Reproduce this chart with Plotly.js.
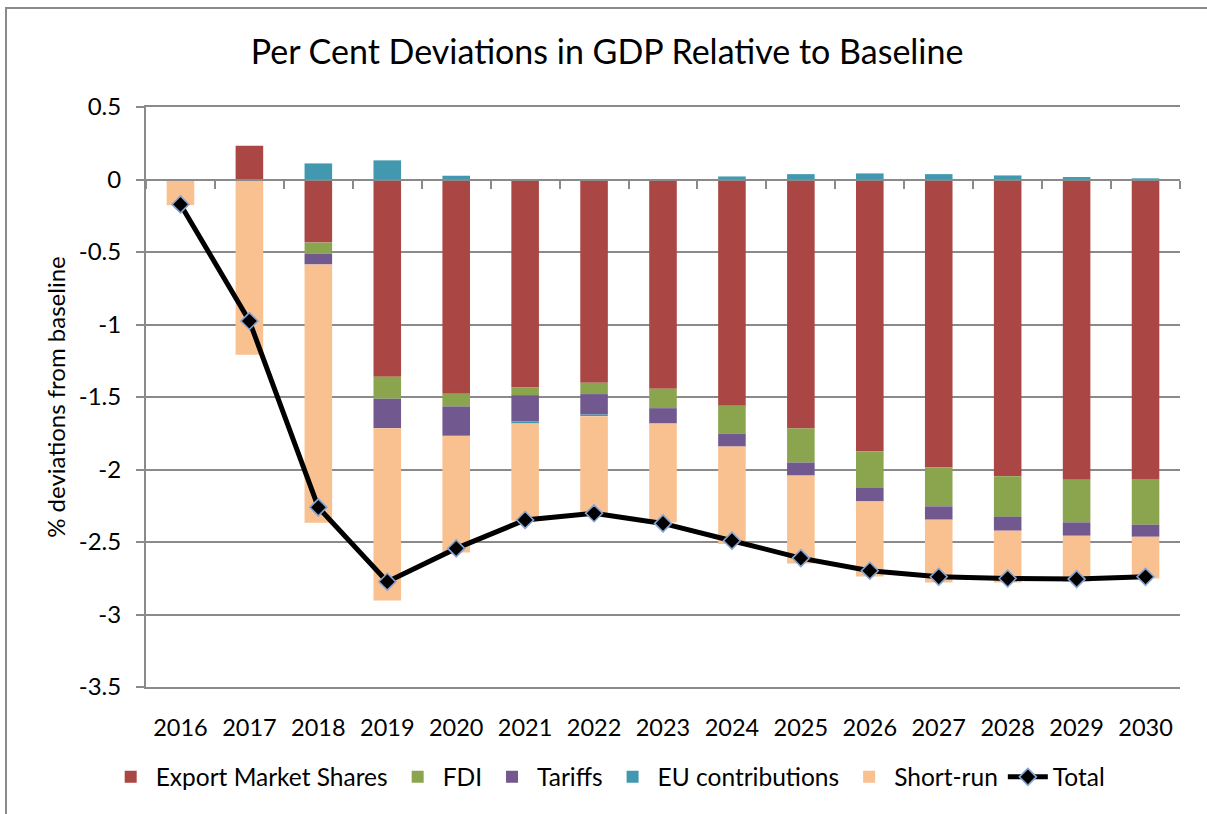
<!DOCTYPE html>
<html>
<head>
<meta charset="utf-8">
<script src="https://cdn.plot.ly/plotly-3.0.1.min.js"></script>
<style>
  html, body { margin: 0; padding: 0; background: #ffffff; }
  #frame { position: absolute; left: 5px; top: 7px; width: 1210px; height: 820px;
           border-left: 2px solid #8a8a8a; border-top: 2px solid #8a8a8a; box-sizing: border-box; }
  #chart { position: absolute; left: 0; top: 0; width: 1207px; height: 814px; }
</style>
</head>
<body>
<div id="frame"></div>
<div id="chart"></div>
<script>
// ---- data ----
const years = ['2016','2017','2018','2019','2020','2021','2022','2023','2024','2025','2026','2027','2028','2029','2030'];
const exportMarketShares = [0, 0.233, -0.435, -1.360, -1.478, -1.434, -1.402, -1.443, -1.561, -1.717, -1.876, -1.987, -2.047, -2.070, -2.065];
const fdi = [0, 0, -0.078, -0.152, -0.087, -0.053, -0.078, -0.134, -0.193, -0.235, -0.249, -0.267, -0.278, -0.295, -0.316];
const tariffs = [0, 0, -0.073, -0.203, -0.203, -0.182, -0.141, -0.106, -0.088, -0.090, -0.095, -0.092, -0.097, -0.092, -0.083];
const euContributions = [0, 0, 0.111, 0.132, 0.026, -0.014, -0.011, 0.002, 0.021, 0.037, 0.042, 0.037, 0.028, 0.017, 0.008];
const shortRun = [-0.177, -1.208, -1.782, -1.189, -0.804, -0.670, -0.675, -0.682, -0.672, -0.606, -0.518, -0.433, -0.357, -0.316, -0.288];
const total = [-0.172, -0.976, -2.261, -2.774, -2.544, -2.348, -2.302, -2.372, -2.491, -2.611, -2.698, -2.740, -2.752, -2.756, -2.740];
const seriesNames = ['Export Market Shares', 'FDI', 'Tariffs', 'EU contributions', 'Short-run', 'Total'];
const yTickVals = [0.5, 0, -0.5, -1, -1.5, -2, -2.5, -3, -3.5];
const yTickText = ['0.5', '0', '-0.5', '-1', '-1.5', '-2', '-2.5', '-3', '-3.5'];

const FONT = 'Lato, "Open Sans", "DejaVu Sans", sans-serif';
const GRID = '#8a8a8a';

function barTrace(name, values, color) {
  return { type: 'bar', name: name, x: years, y: values, xaxis: 'x', yaxis: 'y',
           marker: { color: color, line: { width: 0 } }, hoverinfo: 'x+y+name' };
}

const traces = [
  barTrace(seriesNames[0], exportMarketShares, '#AA4644'),
  barTrace(seriesNames[1], fdi, '#8AA54E'),
  barTrace(seriesNames[2], tariffs, '#71598F'),
  barTrace(seriesNames[3], euContributions, '#4298AF'),
  barTrace(seriesNames[4], shortRun, '#F9C090'),
  { type: 'scatter', mode: 'lines+markers', name: seriesNames[5], x: years, y: total,
    xaxis: 'x2', yaxis: 'y',
    line: { color: '#000000', width: 5 },
    marker: { symbol: 'diamond', size: 13, color: '#000000', line: { color: '#86A4D2', width: 1.6 } } }
];

const layout = {
  width: 1207, height: 814,
  paper_bgcolor: 'rgba(0,0,0,0)', plot_bgcolor: 'rgba(0,0,0,0)',
  margin: { l: 146, r: 27, t: 107, b: 127 },
  font: { family: FONT, color: '#000000', size: 23 },
  title: { text: 'Per Cent Deviations in GDP Relative to Baseline', font: { family: FONT, size: 34, color: '#000000' },
           x: 0.503, xref: 'container', xanchor: 'center', y: 0.936, yref: 'container', yanchor: 'middle' },
  barmode: 'relative', bargap: 0.6,
  showlegend: true,
  legend: { orientation: 'h', x: 0.447, xanchor: 'center', y: -0.155, yanchor: 'middle',
            font: { family: FONT, size: 24.5, color: '#000000' }, itemwidth: 40, tracegroupgap: 0,
            traceorder: 'normal', bgcolor: 'rgba(0,0,0,0)' },
  xaxis: { type: 'category', categoryorder: 'array', categoryarray: years, range: [-0.5, 14.5],
           showgrid: false, zeroline: false, ticks: '', showline: true, mirror: true,
           linecolor: GRID, linewidth: 2, tickfont: { family: FONT, size: 23.5 }, ticklabelstandoff: 19,
           fixedrange: true },
  xaxis2: { type: 'category', categoryorder: 'array', categoryarray: years, range: [-0.5, 14.5],
            overlaying: 'x', anchor: 'free', position: 0.875, side: 'bottom',
            showgrid: false, zeroline: false, showticklabels: false,
            showline: true, linecolor: GRID, linewidth: 2,
            ticks: 'outside', tickson: 'boundaries', ticklen: 8, tickwidth: 2, tickcolor: GRID, fixedrange: true },
  yaxis: { range: [-3.5, 0.5], tickmode: 'array', tickvals: yTickVals, ticktext: yTickText,
           showgrid: true, gridcolor: GRID, gridwidth: 2, zeroline: false,
           showline: true, linecolor: GRID, linewidth: 2,
           ticks: 'outside', ticklen: 8, tickwidth: 2, tickcolor: GRID, ticklabelstandoff: 10,
           tickfont: { family: FONT, size: 24 },
           title: { text: '% deviations from baseline', font: { family: FONT, size: 24 }, standoff: 6 },
           automargin: false, fixedrange: true }
};

Plotly.newPlot('chart', traces, layout, { displayModeBar: false, staticPlot: true });
</script>
</body>
</html>
